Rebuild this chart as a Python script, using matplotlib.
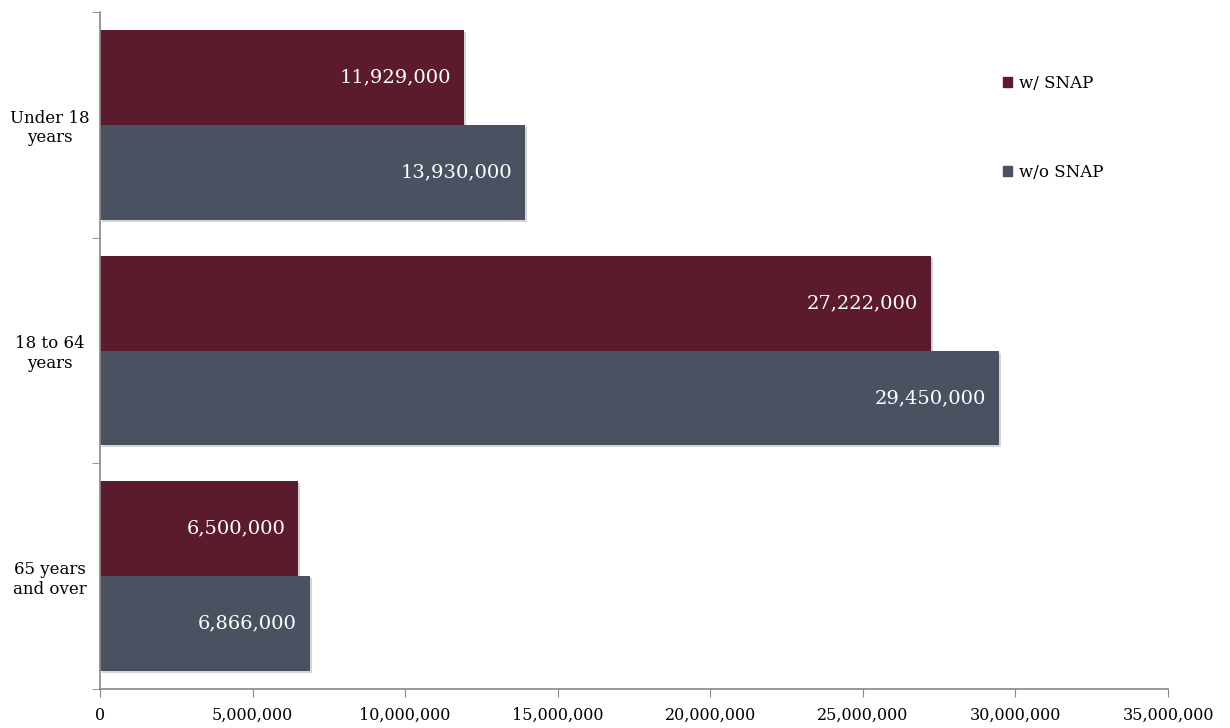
import matplotlib.pyplot as plt
import matplotlib.patheffects as pe
from matplotlib.patches import Patch
import numpy as np
from matplotlib.ticker import FuncFormatter, FixedLocator

plt.rcParams['font.family'] = ['DejaVu Serif']

groups = ['Under 18\nyears', '18 to 64\nyears', '65 years\nand over']
with_snap = [11929000, 27222000, 6500000]
without_snap = [13930000, 29450000, 6866000]

c_with = '#5c1b2d'
c_without = '#4a5160'

fig = plt.figure(figsize=(12.3, 7.28), dpi=100)
ax = fig.add_axes([100/1230, 39/728, 1068/1230, 677/728])

y = np.arange(len(groups))
h = 0.42
shadow = [pe.SimplePatchShadow(offset=(1.5, -1.5), alpha=0.18), pe.Normal()]
b1 = ax.barh(y - h/2, with_snap, height=h, color=c_with, path_effects=shadow)
b2 = ax.barh(y + h/2, without_snap, height=h, color=c_without, path_effects=shadow)

# value labels inside the bar ends
for bars, vals in ((b1, with_snap), (b2, without_snap)):
    for bar, v in zip(bars, vals):
        ax.text(v - 420000, bar.get_y() + bar.get_height()/2, format(v, ','),
                ha='right', va='center', color='white', fontsize=14)

ax.set_ylim(2.5, -0.5)
ax.set_xlim(0, 35000000)
ax.set_yticks(y)
ax.set_yticklabels(groups, fontsize=12, ha='center', linespacing=1.2)
ax.tick_params(axis='y', length=0, pad=36)
ax.yaxis.set_minor_locator(FixedLocator([-0.5, 0.5, 1.5, 2.5]))
ax.tick_params(axis='y', which='minor', length=6, color='#888888', direction='out')

ax.set_xticks(np.arange(0, 35000001, 5000000))
ax.xaxis.set_major_formatter(FuncFormatter(lambda v, p: format(int(v), ',')))
ax.tick_params(axis='x', length=6, color='#888888', labelsize=11.5, pad=7)

for s in ['top', 'right']:
    ax.spines[s].set_visible(False)
for s in ['left', 'bottom']:
    ax.spines[s].set_color('#888888')
    ax.spines[s].set_linewidth(1.2)

handles = [Patch(color=c_with, label='w/ SNAP'), Patch(color=c_without, label='w/o SNAP')]
fig.legend(handles=handles, loc='upper left', bbox_to_anchor=(988/1230, 1 - 60/728),
           frameon=False, fontsize=12, handlelength=0.55, handleheight=0.55,
           handletextpad=0.4, labelspacing=4.3)

fig.savefig('out.png', dpi=100)
